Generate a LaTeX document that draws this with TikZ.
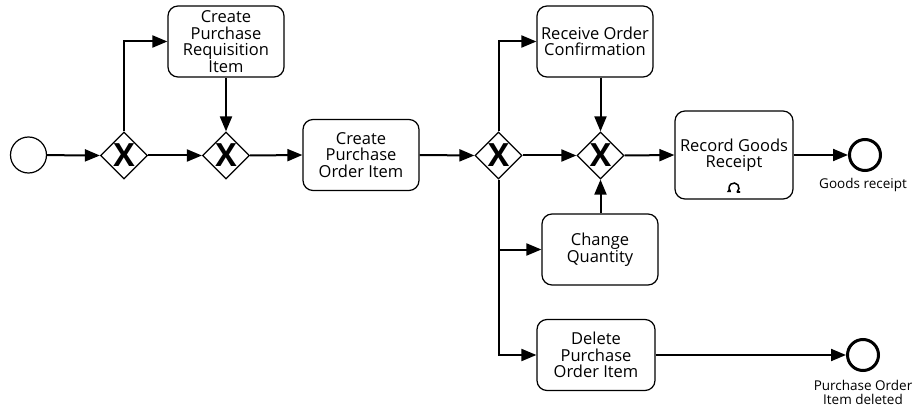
\documentclass[tikz,border=0pt]{standalone}
\usepackage{fontspec}
\setmainfont{Open Sans}
\usetikzlibrary{arrows.meta,shapes.geometric}

\begin{document}
\begin{tikzpicture}[x=1pt,y=-1pt,
  task/.style={draw, rounded corners=10pt, line width=1.2pt,
    minimum width=116pt, minimum height=71pt, inner sep=2pt,
    align=center, font=\fontsize{16.5}{16.5}\selectfont},
  gw/.style={diamond, aspect=1, draw, line width=1.2pt,
    minimum size=47pt, inner sep=0pt,
    label={[font=\fontsize{32}{32}\selectfont\bfseries, inner sep=0pt]center:X}},
  startev/.style={circle, draw, line width=1.2pt, minimum size=36pt, inner sep=0pt},
  endev/.style={circle, draw, line width=3pt, minimum size=31pt, inner sep=0pt},
  lbl/.style={font=\fontsize{13.5}{14}\selectfont, align=center, inner sep=0pt},
  flow/.style={line width=2pt, -{Triangle[length=15pt,width=12pt]}}
]
\useasboundingbox (0,0) rectangle (916,409);

% events and gateways
\node[startev] (s)  at (28.5,155) {};
\node[gw]      (g1) at (124,155.5) {};
\node[gw]      (g2) at (226,155.5) {};
\node[gw]      (g3) at (498.5,155.5) {};
\node[gw]      (g4) at (600.5,155.5) {};
\node[endev]   (e1) at (865,155) {};
\node[endev]   (e2) at (863,355) {};

% tasks
\node[task] (prq) at (226,41.5) {Create\\Purchase\\Requisition\\Item};
\node[task] (poi) at (361,155) {Create\\Purchase\\Order Item};
\node[task] (roc) at (595,41.5) {Receive Order\\Confirmation};
\node[task, minimum width=118pt, minimum height=88pt] (rgr) at (734,155) {Record Goods\\Receipt};
\node[task] (cq)  at (600,249.5) {Change\\Quantity};
\node[task, minimum width=118pt] (dpo) at (596,355) {Delete\\Purchase\\Order Item};

% end event labels
\node[lbl] (l1) at (863,185) {Goods receipt};
\node[lbl] (l2) at (863,392) {Purchase Order\\Item deleted};

% standard loop marker of the goods receipt task
\coordinate (loop) at (734,188);
\draw[line width=1.5pt, line cap=round]
  ([shift={(50:5)}]loop) -- ++(2.5,0);
\draw[line width=1.5pt, -{Triangle[length=3.5pt,width=5pt]}]
  ([shift={(50:5)}]loop) arc[start angle=50, end angle=-235, radius=5];

% sequence flows
\draw[flow] (s) -- (g1.west);
\draw[flow] (g1.north) |- (prq.west);
\draw[flow] (g1.east) -- (g2.west);
\draw[flow] (prq.south) -- (g2.north);
\draw[flow] (g2.east) -- (poi.west);
\draw[flow] (poi.east) -- (g3.west);
\draw[flow] (g3.north) |- (roc.west);
\draw[flow] (g3.east) -- (g4.west);
\draw[flow] (roc.south -| g4.north) -- (g4.north);
\draw[flow] (g4.east) -- (rgr.west);
\draw[flow] (rgr.east) -- (e1.west);
\draw[flow] (g3.south) |- (dpo.west);
\draw[flow] (g3.south |- cq.west) -- (cq.west);
\draw[flow] (cq.north -| g4.south) -- (g4.south);
\draw[flow] (dpo.east) -- (e2.west);
\end{tikzpicture}
\end{document}
